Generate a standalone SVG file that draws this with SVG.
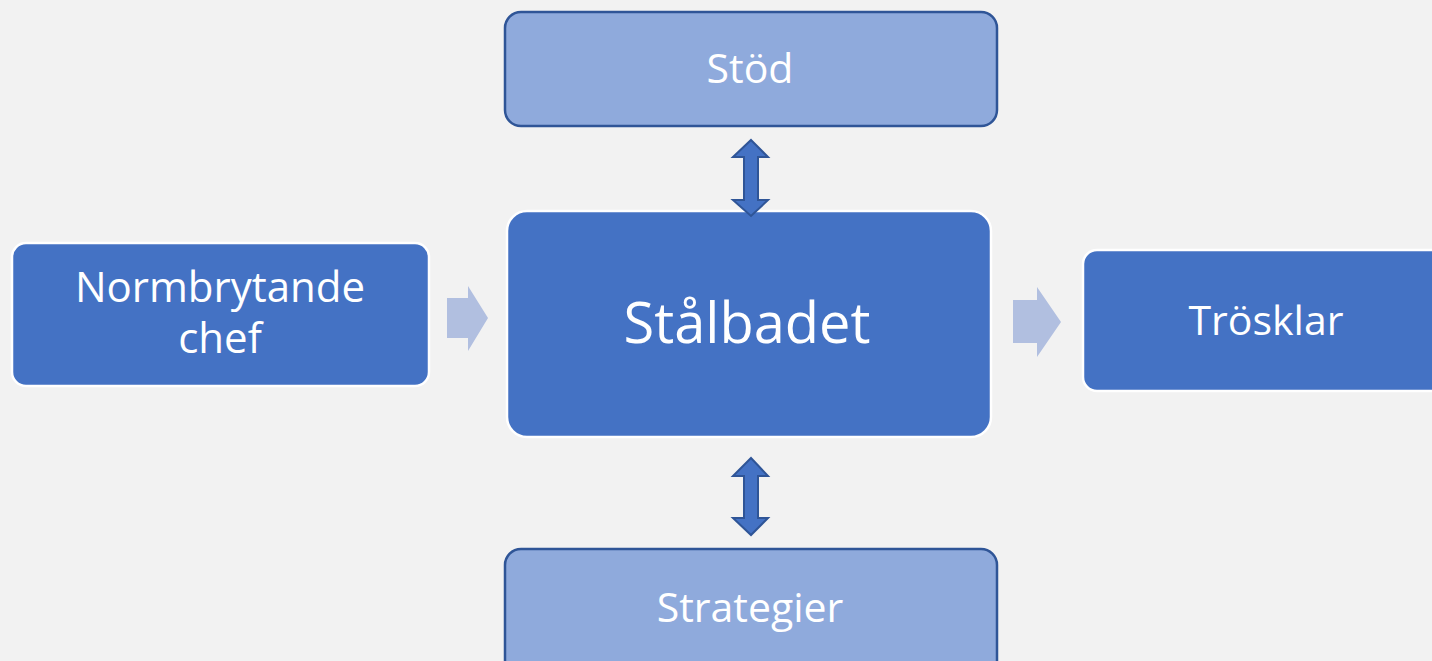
<svg xmlns="http://www.w3.org/2000/svg" width="1432" height="661" viewBox="0 0 1432 661">
<style>
.dark{fill:#4472C4;stroke:#FFFFFF;stroke-width:2.5}
.light{fill:#8FAADC;stroke:#2F5597;stroke-width:2.5}
.t{fill:#FFFFFF;font-family:"Open Sans","Liberation Sans",sans-serif;font-size:41px;text-anchor:middle}
.n{font-size:42px}
.big{font-size:56px}
.dbl{fill:#4472C4;stroke:#2F5597;stroke-width:2}
.fat{fill:#B1BFE0}
</style>
<rect x="0" y="0" width="1432" height="661" fill="#F2F2F2"/>
<g id="stod">
<rect class="light" x="505" y="12" width="492" height="114" rx="16"/>
<text class="t" x="750" y="83">Stöd</text>
</g>
<g id="stalbadet">
<rect class="dark" x="507" y="211" width="484" height="226" rx="20"/>
<text class="t big" x="747" y="343">Stålbadet</text>
</g>
<g id="normbrytande">
<rect class="dark" x="12" y="243" width="417" height="143" rx="14"/>
<text class="t n" x="220" y="302">Normbrytande<tspan x="220" dy="51">chef</tspan></text>
</g>
<g id="trosklar">
<rect class="dark" x="1083" y="250" width="380" height="141" rx="14"/>
<text class="t" x="1266" y="335">Trösklar</text>
</g>
<g id="strategier">
<rect class="light" x="505" y="549" width="492" height="140" rx="16"/>
<text class="t" x="750" y="622">Strategier</text>
</g>
<g id="connectors">
<polygon class="dbl" points="751,140 768,157 758,157 758,200 768,200 751,216 733,200 744,200 744,157 733,157"/>
<polygon class="dbl" points="751,458 768,476 758,476 758,518 768,518 751,535 733,518 744,518 744,476 733,476"/>
<polygon class="fat" points="447,298 468,298 468,286 488,318 468,351 468,338 447,338"/>
<polygon class="fat" points="1013,300 1037,300 1037,287 1061,322 1037,357 1037,343 1013,343"/>
</g>
</svg>
